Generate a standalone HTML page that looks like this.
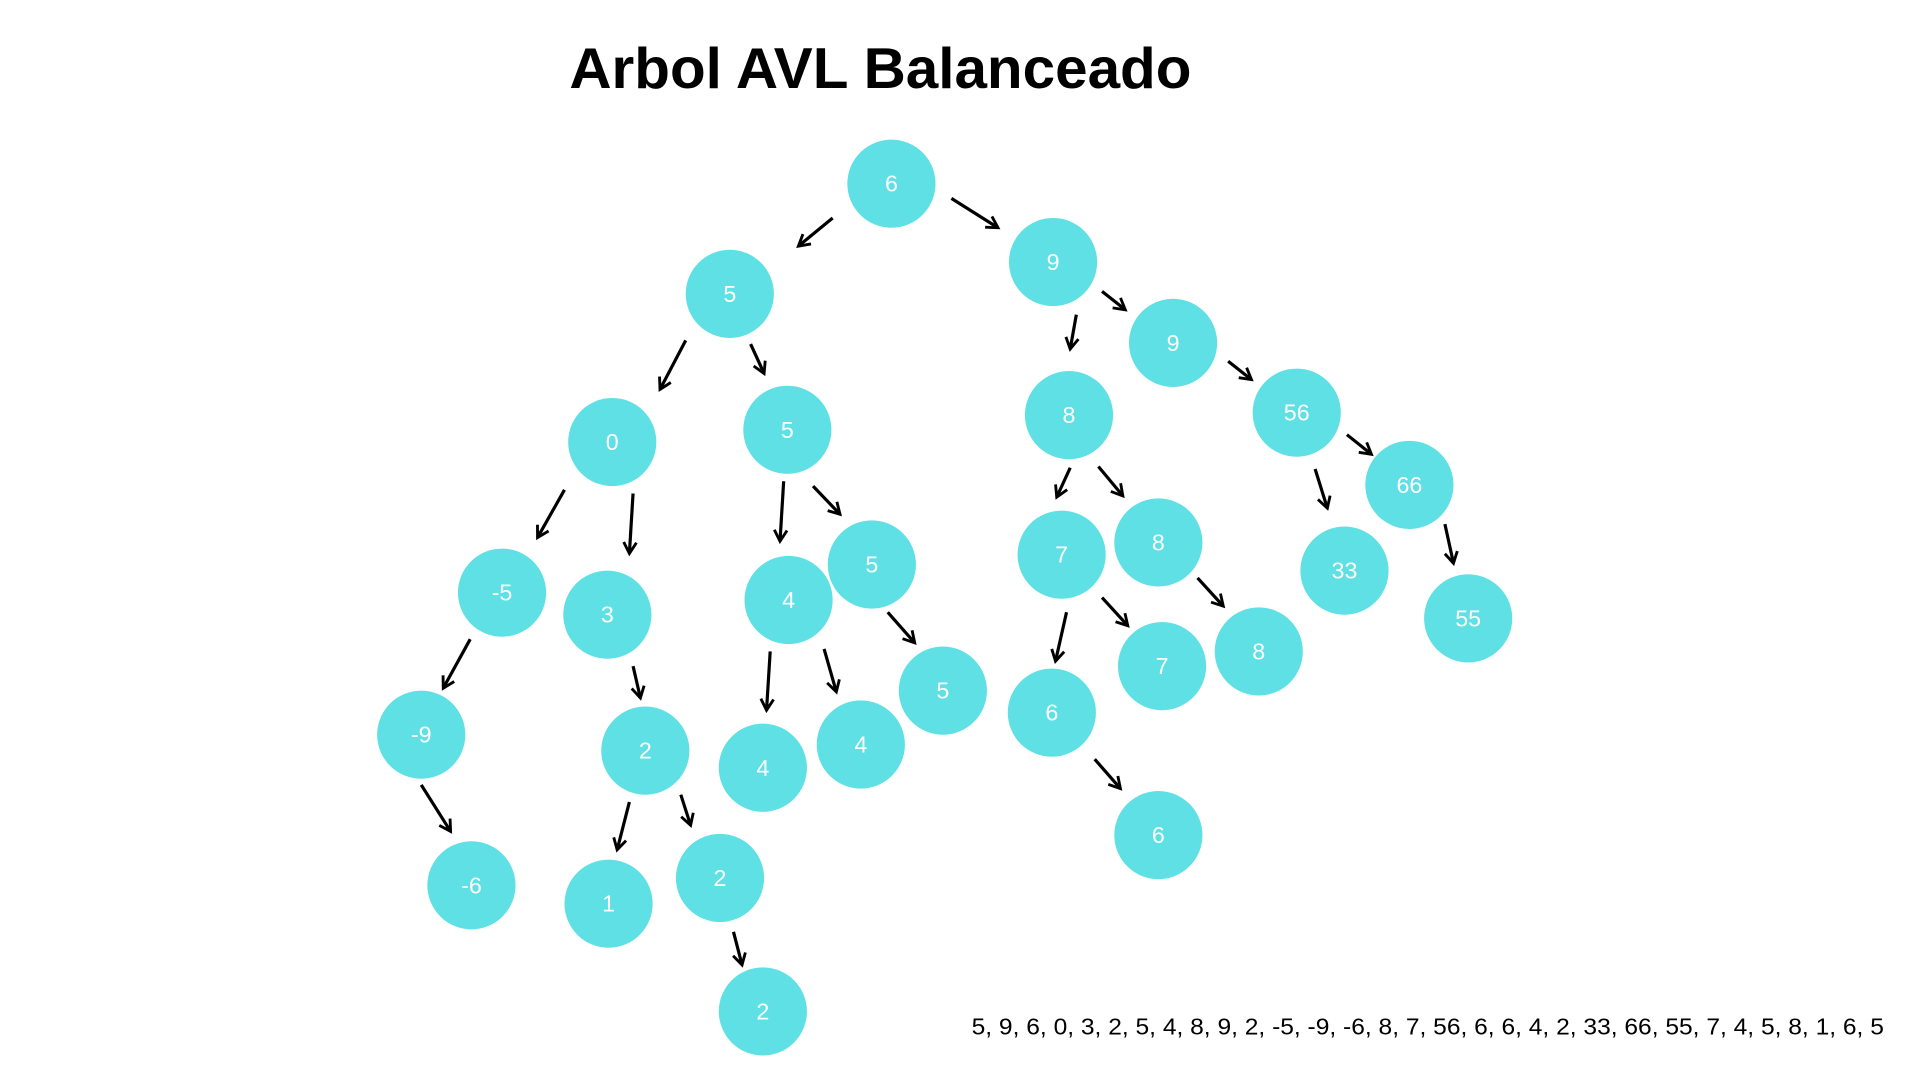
<!DOCTYPE html>
<html><head><meta charset="utf-8"><style>
html,body{margin:0;padding:0;background:#fff;width:1920px;height:1080px;overflow:hidden}
svg{display:block}
text{font-family:"Liberation Sans",sans-serif}
</style></head><body>
<svg width="1920" height="1080" viewBox="0 0 1568 882" xmlns="http://www.w3.org/2000/svg">
<defs>
<marker id="a" viewBox="0 0 10 10" refX="8" refY="5" markerWidth="5" markerHeight="5" orient="auto">
<path d="M1,1 L8,5 L1,9" fill="none" stroke="#000" stroke-width="1.8"/>
</marker>
</defs>
<text x="719" y="72" font-size="47" font-weight="bold" text-anchor="middle" fill="#000" textLength="508" lengthAdjust="spacingAndGlyphs">Arbol AVL Balanceado</text>
<g stroke="#000" stroke-width="2.6" marker-end="url(#a)">
<line x1="680" y1="178" x2="652" y2="201"/>
<line x1="777" y1="162" x2="815" y2="186"/>
<line x1="900" y1="238" x2="919" y2="253"/>
<line x1="879" y1="257" x2="874" y2="285"/>
<line x1="1003" y1="295" x2="1022" y2="310"/>
<line x1="560" y1="278" x2="539" y2="318"/>
<line x1="613" y1="281" x2="624" y2="305"/>
<line x1="1100" y1="355" x2="1120" y2="371"/>
<line x1="1074" y1="383" x2="1084" y2="415"/>
<line x1="874" y1="382" x2="863" y2="406"/>
<line x1="897" y1="381" x2="917" y2="405"/>
<line x1="461" y1="400" x2="439" y2="439"/>
<line x1="517" y1="403" x2="514" y2="452"/>
<line x1="640" y1="393" x2="637" y2="442"/>
<line x1="664" y1="397" x2="686" y2="420"/>
<line x1="1180" y1="428" x2="1187" y2="460"/>
<line x1="384" y1="522" x2="362" y2="562"/>
<line x1="517" y1="544" x2="523" y2="570"/>
<line x1="871" y1="500" x2="862" y2="540"/>
<line x1="900" y1="488" x2="921" y2="511"/>
<line x1="978" y1="472" x2="999" y2="495"/>
<line x1="725" y1="500" x2="747" y2="525"/>
<line x1="629" y1="532" x2="626" y2="580"/>
<line x1="673" y1="530" x2="683" y2="565"/>
<line x1="344" y1="641" x2="368" y2="679"/>
<line x1="514" y1="655" x2="504" y2="694"/>
<line x1="556" y1="649" x2="564" y2="674"/>
<line x1="894" y1="620" x2="915" y2="644"/>
<line x1="599" y1="761" x2="606" y2="788"/>
</g>
<g fill="#5ee0e5">
<circle cx="728" cy="150" r="36"/><circle cx="860" cy="214" r="36"/><circle cx="596" cy="240" r="36"/>
<circle cx="958" cy="280" r="36"/><circle cx="873" cy="339" r="36"/><circle cx="1059" cy="337" r="36"/>
<circle cx="500" cy="361" r="36"/><circle cx="643" cy="351" r="36"/><circle cx="1151" cy="396" r="36"/>
<circle cx="867" cy="453" r="36"/><circle cx="946" cy="443" r="36"/><circle cx="1098" cy="466" r="36"/>
<circle cx="410" cy="484" r="36"/><circle cx="496" cy="502" r="36"/><circle cx="644" cy="490" r="36"/>
<circle cx="712" cy="461" r="36"/><circle cx="1199" cy="505" r="36"/><circle cx="949" cy="544" r="36"/>
<circle cx="1028" cy="532" r="36"/><circle cx="770" cy="564" r="36"/><circle cx="859" cy="582" r="36"/>
<circle cx="344" cy="600" r="36"/><circle cx="527" cy="613" r="36"/><circle cx="623" cy="627" r="36"/>
<circle cx="703" cy="608" r="36"/><circle cx="946" cy="682" r="36"/><circle cx="385" cy="723" r="36"/>
<circle cx="497" cy="738" r="36"/><circle cx="588" cy="717" r="36"/><circle cx="623" cy="826" r="36"/>
</g>
<g fill="#fff" font-size="19" text-anchor="middle" dominant-baseline="central">
<text x="728" y="150">6</text><text x="860" y="214">9</text><text x="596" y="240">5</text>
<text x="958" y="280">9</text><text x="873" y="339">8</text><text x="1059" y="337">56</text>
<text x="500" y="361">0</text><text x="643" y="351">5</text><text x="1151" y="396">66</text>
<text x="867" y="453">7</text><text x="946" y="443">8</text><text x="1098" y="466">33</text>
<text x="410" y="484">-5</text><text x="496" y="502">3</text><text x="644" y="490">4</text>
<text x="712" y="461">5</text><text x="1199" y="505">55</text><text x="949" y="544">7</text>
<text x="1028" y="532">8</text><text x="770" y="564">5</text><text x="859" y="582">6</text>
<text x="344" y="600">-9</text><text x="527" y="613">2</text><text x="623" y="627">4</text>
<text x="703" y="608">4</text><text x="946" y="682">6</text><text x="385" y="723">-6</text>
<text x="497" y="738">1</text><text x="588" y="717">2</text><text x="623" y="826">2</text>
</g>
<text x="1166" y="845" font-size="19" text-anchor="middle" fill="#000" textLength="745" lengthAdjust="spacingAndGlyphs">5, 9, 6, 0, 3, 2, 5, 4, 8, 9, 2, -5, -9, -6, 8, 7, 56, 6, 6, 4, 2, 33, 66, 55, 7, 4, 5, 8, 1, 6, 5</text>
</svg>
</body></html>
